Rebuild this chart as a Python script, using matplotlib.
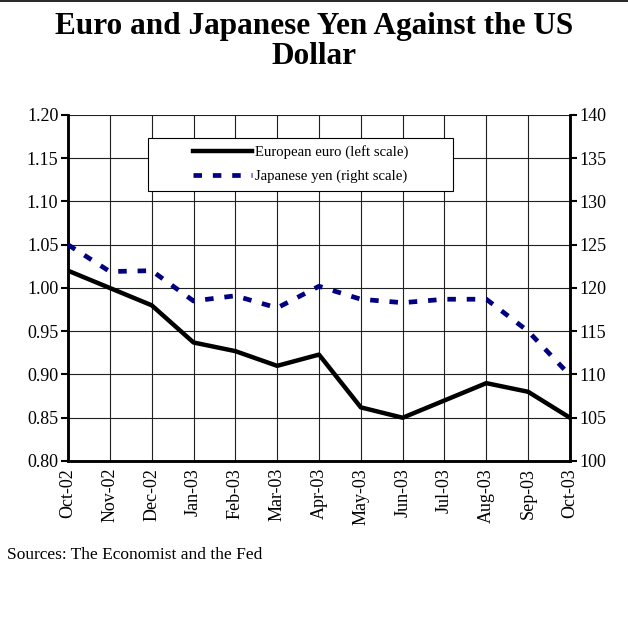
import matplotlib
matplotlib.use("Agg")
import matplotlib.pyplot as plt
from matplotlib.lines import Line2D
from matplotlib.patches import Rectangle

plt.rcParams["font.family"] = ["Liberation Serif", "DejaVu Serif"]

months = ["Oct-02", "Nov-02", "Dec-02", "Jan-03", "Feb-03", "Mar-03", "Apr-03",
          "May-03", "Jun-03", "Jul-03", "Aug-03", "Sep-03", "Oct-03"]
euro = [1.02, 1.00, 0.98, 0.937, 0.927, 0.910, 0.923, 0.862, 0.850, 0.870, 0.890, 0.880, 0.850]
yen = [125.0, 121.9, 122.0, 118.5, 119.1, 117.7, 120.2, 118.7, 118.3, 118.7, 118.7, 115.0, 109.9]
left_ticks = [0.80, 0.85, 0.90, 0.95, 1.00, 1.05, 1.10, 1.15, 1.20]
right_ticks = [100, 105, 110, 115, 120, 125, 130, 135, 140]

NAVY = "#000080"
YEN_DASH = (1.8, 2.3)

fig = plt.figure(figsize=(6.28, 6.37), dpi=100)
ax = fig.add_axes([0.1083, 0.2763, 0.7993, 0.5432])
ax2 = ax.twinx()

x = list(range(len(months)))
ax.plot(x, euro, color="black", lw=3.2, zorder=3)
ax2.plot(x, yen, color=NAVY, lw=3.4, dashes=YEN_DASH, zorder=3)

ax.set_xlim(0, len(months) - 1)
ax.set_ylim(0.80, 1.20)
ax2.set_ylim(100, 140)
ax.set_yticks(left_ticks)
ax.set_yticklabels([f"{v:.2f}" for v in left_ticks])
ax2.set_yticks(right_ticks)
ax2.set_yticklabels([str(v) for v in right_ticks])
ax.set_xticks(x)
ax.set_xticklabels(months, rotation=90)

ax.grid(True, color="#202020", lw=0.8)
ax.set_axisbelow(True)
ax.tick_params(axis="y", labelsize=13, direction="out", length=5, width=1.5, pad=2)
ax.tick_params(axis="x", labelsize=13, direction="out", length=0, pad=5)
ax2.tick_params(axis="y", labelsize=13, direction="out", length=5, width=1.5, pad=2)
for a in (ax, ax2):
    a.spines["top"].set_visible(False)
    a.spines["left"].set_linewidth(1.8)
    a.spines["right"].set_linewidth(1.8)
    a.spines["bottom"].set_linewidth(1.8)

# legend box drawn separately (wide padding like the original)
ax2.add_patch(Rectangle((0.159, 0.780), 0.608, 0.1535, transform=ax.transAxes,
                        facecolor="white", edgecolor="black", lw=0.8, zorder=4))
handles = [
    Line2D([], [], color="black", lw=3.2),
    Line2D([], [], color=NAVY, lw=3.4, dashes=YEN_DASH),
]
leg = ax2.legend(handles, ["European euro (left scale)", "Japanese yen (right scale)"],
                 loc="upper left", bbox_to_anchor=(0.249, 0.912), bbox_transform=ax.transAxes,
                 fontsize=10.6, frameon=False, handlelength=4.0, handletextpad=0.2,
                 borderpad=0, labelspacing=0.7, borderaxespad=0)
leg.set_zorder(5)

fig.text(0.5, 0.981, "Euro and Japanese Yen Against the US\nDollar", ha="center", va="top",
         fontsize=22.5, fontweight="bold", linespacing=1.02)
fig.text(0.011, 0.128, "Sources: The Economist and the Fed", ha="left", va="center", fontsize=12.5)
fig.add_artist(Line2D([0, 1], [0.999, 0.999], color="black", lw=1.2, transform=fig.transFigure))

fig.savefig("out.png", dpi=100)
